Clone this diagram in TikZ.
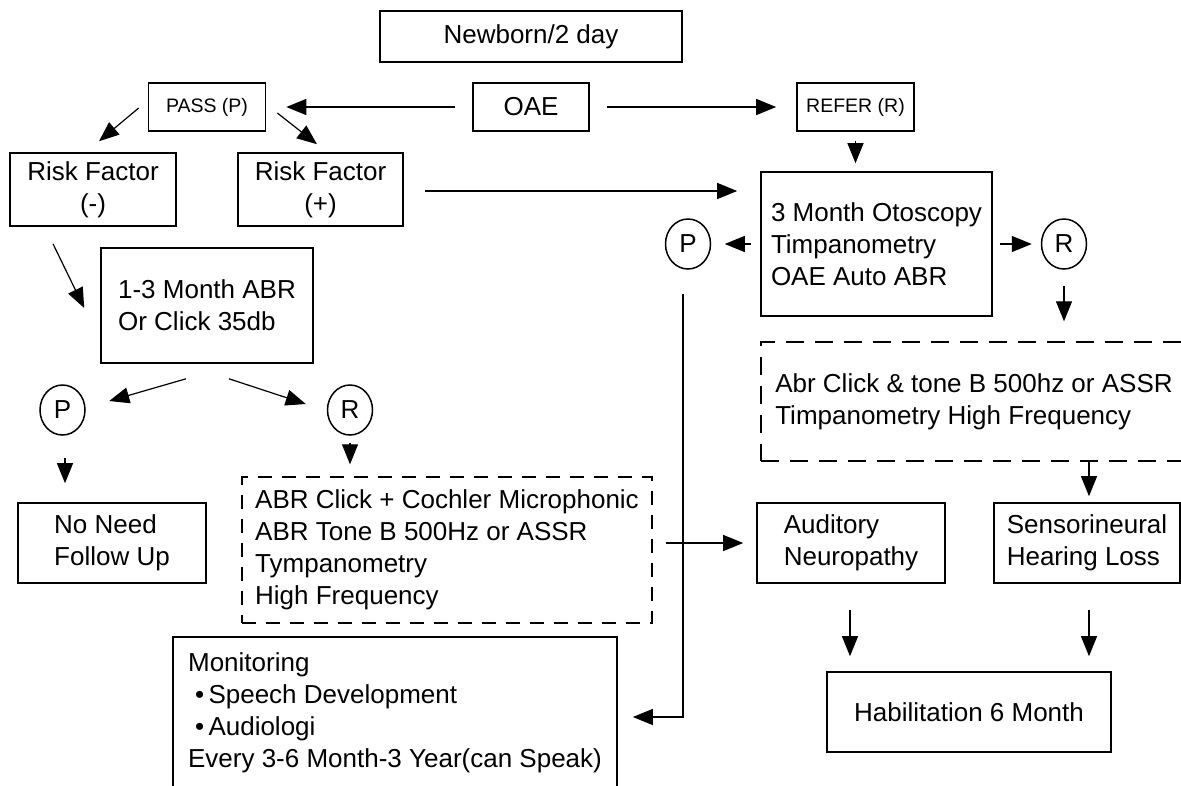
\documentclass[tikz,border=0pt]{standalone}
\usepackage{fontspec}
\setmainfont{Liberation Sans}
\usetikzlibrary{arrows.meta,calc,shapes.geometric}
\begin{document}
\begin{tikzpicture}[x=1pt,y=-1pt,
  box/.style={draw, line width=1.6pt, inner sep=0pt, font=\fontsize{26}{32}\selectfont},
  sbox/.style={box, font=\fontsize{19.5}{24}\selectfont},
  dboxl/.style={box, line width=1.4pt, dash pattern=on 14pt off 10pt},
  dboxr/.style={box, line width=1.4pt, dash pattern=on 18pt off 11pt},
  circ/.style={draw, ellipse, line width=1.5pt, inner sep=0pt, minimum width=45pt, minimum height=50pt, font=\fontsize{26}{32}\selectfont},
  arr/.style={-{Triangle[length=20pt,width=16pt]}, line width=1.2pt},
]
\path[use as bounding box, fill=white] (0,0) rectangle (1181,785);

\node[box, minimum width=302pt, minimum height=51pt] (newborn) at (531,36.5) {Newborn/2 day};
\node[sbox, minimum width=117pt, minimum height=48pt] (pass) at (207,107) {PASS (P)};
\node[box, minimum width=116pt, minimum height=48pt] (oae) at (531,107) {OAE};
\node[sbox, minimum width=117pt, minimum height=48pt] (refer) at (855.5,107) {REFER (R)};
\node[box, minimum width=166pt, minimum height=73pt, align=center] (rfm) at (93,189.5) {Risk Factor\\(-)};
\node[box, minimum width=165pt, minimum height=73pt, align=center] (rfp) at (320.5,189.5) {Risk Factor\\(+)};
\node[box, minimum width=212pt, minimum height=115pt, align=left] (abr13) at (207,305.5) {1-3 Month ABR\\Or Click 35db};
\node[box, minimum width=231pt, minimum height=144pt, align=left] (mo3) at (876.5,244) {3 Month Otoscopy\\Timpanometry\\OAE Auto ABR};
\node[circ] (pc) at (688,244) {P};
\node[circ] (rc) at (1064,244) {R};
\node[dboxr, minimum width=426pt, minimum height=119pt, align=left] (dashr) at (974,401.5) {Abr Click \& tone B 500hz or ASSR\\Timpanometry High Frequency};
\node[box, minimum width=188pt, minimum height=80pt, align=left] (an) at (851,543) {Auditory\\Neuropathy};
\node[box, minimum width=186pt, minimum height=80pt, align=left] (snhl) at (1087,543) {Sensorineural\\Hearing Loss};
\node[box, minimum width=284pt, minimum height=80pt] (hab) at (969,712) {Habilitation 6 Month};
\node[circ] (pl) at (62.5,410) {P};
\node[circ] (rl) at (350,410) {R};
\node[box, minimum width=188pt, minimum height=80pt, align=left] (noneed) at (112,543) {No Need\\Follow Up};
\node[dboxl, minimum width=410pt, minimum height=146pt, align=left] (abrd) at (447,550) {ABR Click + Cochler Microphonic\\ABR Tone B 500Hz or ASSR\\Tympanometry\\High Frequency};
\node[box, minimum width=444pt, minimum height=152pt, align=left] (mon) at (395,713) {Monitoring\\\hspace*{7pt}•\,Speech Development\\\hspace*{7pt}•\,Audiologi\\Every 3-6 Month-3 Year(can Speak)};

\draw[arr] ($(oae.west)+(-17,0)$) -- ($(pass.east)+(20,0)$);
\draw[arr] ($(oae.east)+(17,0)$) -- ($(refer.west)+(-20,0)$);
\draw[arr] ($(pass.west)+(-9,1)$) -- ($(rfm.north)+(6,-11)$);
\draw[arr] ($(pass.east)+(11,6)$) -- ($(rfp.north)+(-3.5,-8)$);
\draw[arr] ($(rfp.east)+(21,1.5)$) -- ($(rfp.east -| mo3.west)+(-23,1.5)$);
\draw[arr] ($(refer.south)+(0,9)$) -- ($(refer.south |- mo3.north)+(0,-8)$);
\draw[arr] ($(mo3.west)+(-9,0)$) -- ($(pc.east)+(13.5,0)$);
\draw[arr] ($(mo3.east)+(7,0)$) -- ($(rc.west)+(-9,0)$);
\draw[arr] ($(rc.south)+(0,16)$) -- ($(rc.south |- dashr.north)+(0,-20)$);
\draw[arr] ($(snhl.north |- dashr.south)+(2,0)$) -- ($(snhl.north)+(2,-6)$);
\draw[arr] ($(an.south)+(-1,26)$) -- ($(an.south |- hab.north)+(-1,-15)$);
\draw[arr] ($(snhl.south)+(2,26)$) -- ($(snhl.south |- hab.north)+(2,-15)$);
\draw[arr] ($(abr13.south)+(-21,15)$) -- ($(pl.east)+(23.5,-9)$);
\draw[arr] ($(abr13.south)+(22,15)$) -- ($(rl.west)+(-21,-6)$);
\draw[arr] ($(pl.south)+(2.5,22)$) -- ($(pl.south |- noneed.north)+(2.5,-19)$);
\draw[arr] ($(rl.south)+(0,7)$) -- ($(rl.south |- abrd.north)+(0,-12)$);
\draw[arr] ($(rfm.south)+(-40,17)$) -- ($(abr13.west)+(-16,2.5)$);
\draw[arr] ($(abrd.east |- an.west)+(13,0)$) -- ($(an.west)+(-13,0)$);
\draw[arr] ($(pc.south)+(-5,24)$) |- ($(mon.east)+(15,4)$);
\end{tikzpicture}
\end{document}
